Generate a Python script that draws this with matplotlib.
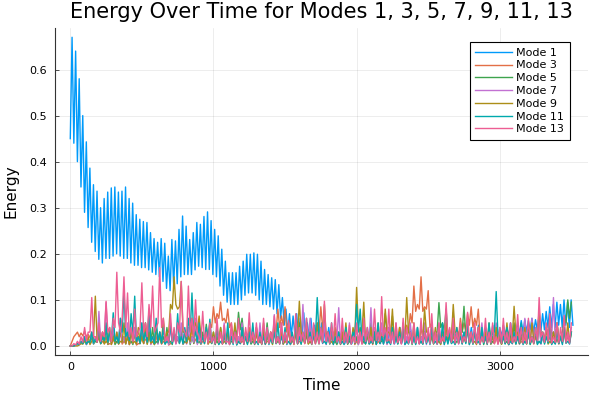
"""
plot.py

Energy over time for the odd modes 1-13. Values were read off a reference
figure: each mode is stored as its successive peaks and the troughs between
them (half-period steps).
"""

import matplotlib
matplotlib.use("Agg")
import matplotlib.pyplot as plt
import numpy as np


# ============================================================
# 1) DATA
# ============================================================

MODE1_STEP = 12.45   # time between a trough and the next peak, mode 1
MODE_STEP = 12.5     # same for modes 3..13

# Mode 1: troughs (j = 0..141) and peaks (j = 1..141)
MODE1_TROUGHS = [
    0.45, 0.44, 0.40, 0.345, 0.29, 0.257, 0.225, 0.205, 0.188, 0.18,
    0.19, 0.19, 0.195, 0.20, 0.195, 0.19, 0.19, 0.18, 0.175, 0.175,
    0.17, 0.17, 0.165, 0.16, 0.155, 0.15, 0.14, 0.125, 0.12, 0.13,
    0.135, 0.15, 0.155, 0.155, 0.155, 0.165, 0.173, 0.17, 0.166, 0.166,
    0.155, 0.15, 0.13, 0.11, 0.095, 0.09, 0.09, 0.09, 0.10, 0.11,
    0.115, 0.115, 0.11, 0.10, 0.09, 0.09, 0.085, 0.08, 0.07, 0.06,
    0.045, 0.03, 0.02, 0.025, 0.02, 0.025, 0.015, 0.02, 0.015, 0.01,
    0.015, 0.01, 0.012, 0.008, 0.01, 0.006, 0.008, 0.005, 0.007, 0.005,
    0.006, 0.008, 0.005, 0.007, 0.005, 0.008, 0.006, 0.005, 0.007, 0.006,
    0.008, 0.005, 0.007, 0.006, 0.005, 0.008, 0.006, 0.007, 0.005, 0.006,
    0.008, 0.006, 0.007, 0.005, 0.008, 0.01, 0.007, 0.009, 0.008, 0.01,
    0.012, 0.01, 0.013, 0.011, 0.014, 0.012, 0.015, 0.013, 0.016, 0.015,
    0.018, 0.02, 0.025, 0.02, 0.025, 0.03, 0.025, 0.03, 0.03, 0.035,
    0.03, 0.035, 0.03, 0.035, 0.04, 0.04, 0.04, 0.045, 0.04, 0.045,
    0.04, 0.045,
]
MODE1_PEAKS = [
    0.67, 0.64, 0.58, 0.50, 0.443, 0.386, 0.35, 0.336, 0.30, 0.32,
    0.334, 0.343, 0.345, 0.334, 0.336, 0.345, 0.32, 0.31, 0.285, 0.275,
    0.27, 0.268, 0.246, 0.233, 0.225, 0.233, 0.223, 0.195, 0.231, 0.228,
    0.253, 0.282, 0.26, 0.231, 0.246, 0.268, 0.264, 0.281, 0.291, 0.272,
    0.253, 0.239, 0.21, 0.184, 0.159, 0.159, 0.159, 0.173, 0.184, 0.199,
    0.199, 0.202, 0.199, 0.184, 0.166, 0.155, 0.148, 0.144, 0.133, 0.105,
    0.08, 0.07, 0.065, 0.07, 0.06, 0.072, 0.05, 0.06, 0.045, 0.04,
    0.05, 0.035, 0.04, 0.03, 0.035, 0.025, 0.03, 0.02, 0.025, 0.03,
    0.02, 0.035, 0.025, 0.03, 0.02, 0.04, 0.025, 0.03, 0.02, 0.035,
    0.03, 0.025, 0.04, 0.03, 0.02, 0.035, 0.025, 0.03, 0.02, 0.03,
    0.025, 0.035, 0.03, 0.02, 0.03, 0.04, 0.025, 0.035, 0.03, 0.04,
    0.03, 0.035, 0.04, 0.03, 0.045, 0.035, 0.04, 0.03, 0.045, 0.04,
    0.04, 0.045, 0.04, 0.05, 0.045, 0.05, 0.055, 0.057, 0.055, 0.06,
    0.057, 0.065, 0.07, 0.075, 0.085, 0.09, 0.095, 0.09, 0.10, 0.095,
    0.10,
]

# Modes 3..13: peaks every 25 time units, troughs in between
MODE3_PEAKS = [
    0.0, 0.02, 0.03, 0.028, 0.032, 0.025, 0.03, 0.015, 0.02, 0.01,
    0.02, 0.005, 0.015, 0.01, 0.03, 0.01, 0.02, 0.01, 0.025, 0.005,
    0.02, 0.015, 0.04, 0.01, 0.02, 0.03, 0.01, 0.02, 0.005, 0.025,
    0.015, 0.03, 0.01, 0.02, 0.04, 0.015, 0.03, 0.01, 0.035, 0.05,
    0.085, 0.07, 0.095, 0.06, 0.08, 0.05, 0.03, 0.02, 0.01, 0.03,
    0.015, 0.02, 0.04, 0.02, 0.03, 0.01, 0.03, 0.05, 0.08, 0.065,
    0.085, 0.05, 0.02, 0.03, 0.01, 0.025, 0.02, 0.04, 0.03, 0.05,
    0.085, 0.06, 0.03, 0.02, 0.015, 0.03, 0.01, 0.02, 0.015, 0.03,
    0.01, 0.025, 0.01, 0.03, 0.015, 0.02, 0.01, 0.03, 0.02, 0.015,
    0.03, 0.02, 0.04, 0.03, 0.045, 0.07, 0.13, 0.09, 0.15, 0.085,
    0.12, 0.05, 0.02, 0.03, 0.015, 0.02, 0.035, 0.02, 0.04, 0.06,
    0.05, 0.07, 0.085, 0.06, 0.08, 0.03, 0.015, 0.02, 0.01, 0.02,
    0.015, 0.03, 0.01, 0.02, 0.015, 0.025, 0.01, 0.02, 0.03, 0.015,
    0.02, 0.01, 0.025, 0.04, 0.02, 0.03, 0.015, 0.02, 0.03, 0.02,
    0.03,
]
MODE3_TROUGHS = [
    0.01, 0.025, 0.02, 0.022, 0.02, 0.018, 0.01, 0.008, 0.005, 0.006,
    0.003, 0.004, 0.005, 0.008, 0.004, 0.006, 0.003, 0.007, 0.002, 0.005,
    0.006, 0.01, 0.004, 0.005, 0.008, 0.004, 0.006, 0.002, 0.007, 0.005,
    0.008, 0.004, 0.006, 0.01, 0.005, 0.008, 0.004, 0.012, 0.02, 0.04,
    0.05, 0.06, 0.055, 0.05, 0.04, 0.02, 0.01, 0.005, 0.008, 0.006,
    0.005, 0.01, 0.008, 0.006, 0.004, 0.008, 0.015, 0.03, 0.04, 0.045,
    0.03, 0.01, 0.006, 0.004, 0.008, 0.005, 0.01, 0.012, 0.02, 0.03,
    0.04, 0.02, 0.008, 0.005, 0.006, 0.004, 0.005, 0.004, 0.006, 0.003,
    0.005, 0.004, 0.006, 0.005, 0.003, 0.004, 0.006, 0.005, 0.004, 0.006,
    0.008, 0.01, 0.012, 0.015, 0.03, 0.05, 0.075, 0.08, 0.075, 0.08,
    0.04, 0.015, 0.008, 0.005, 0.006, 0.01, 0.008, 0.01, 0.02, 0.03,
    0.035, 0.045, 0.04, 0.045, 0.02, 0.008, 0.005, 0.004, 0.006, 0.005,
    0.004, 0.006, 0.003, 0.005, 0.004, 0.006, 0.005, 0.008, 0.005, 0.004,
    0.006, 0.005, 0.01, 0.008, 0.006, 0.005, 0.004, 0.008, 0.006, 0.01,
]

MODE5_PEAKS = [
    0.0, 0.0, 0.005, 0.01, 0.015, 0.01, 0.02, 0.01, 0.03, 0.02,
    0.04, 0.02, 0.03, 0.01, 0.05, 0.02, 0.03, 0.01, 0.04, 0.02,
    0.03, 0.05, 0.02, 0.04, 0.01, 0.03, 0.02, 0.04, 0.01, 0.03,
    0.02, 0.04, 0.01, 0.03, 0.02, 0.04, 0.01, 0.03, 0.047, 0.02,
    0.03, 0.01, 0.04, 0.02, 0.03, 0.01, 0.04, 0.073, 0.06, 0.02,
    0.03, 0.01, 0.04, 0.02, 0.03, 0.05, 0.02, 0.04, 0.01, 0.03,
    0.02, 0.04, 0.01, 0.03, 0.05, 0.02, 0.03, 0.01, 0.04, 0.02,
    0.03, 0.05, 0.02, 0.04, 0.01, 0.03, 0.02, 0.04, 0.01, 0.03,
    0.02, 0.04, 0.01, 0.03, 0.05, 0.02, 0.03, 0.01, 0.07, 0.04,
    0.065, 0.03, 0.02, 0.04, 0.01, 0.03, 0.02, 0.04, 0.01, 0.03,
    0.02, 0.04, 0.03, 0.094, 0.05, 0.08, 0.02, 0.04, 0.01, 0.03,
    0.086, 0.03, 0.02, 0.04, 0.01, 0.03, 0.02, 0.04, 0.01, 0.03,
    0.02, 0.04, 0.01, 0.03, 0.05, 0.02, 0.03, 0.01, 0.04, 0.02,
    0.03, 0.05, 0.02, 0.04, 0.057, 0.03, 0.05, 0.02, 0.06, 0.10,
    0.095,
]
MODE5_TROUGHS = [
    0.0, 0.002, 0.004, 0.005, 0.003, 0.006, 0.004, 0.008, 0.005, 0.006,
    0.004, 0.007, 0.003, 0.005, 0.008, 0.004, 0.006, 0.003, 0.009, 0.005,
    0.006, 0.004, 0.008, 0.003, 0.005, 0.007, 0.004, 0.006, 0.003, 0.008,
    0.005, 0.004, 0.007, 0.003, 0.006, 0.005, 0.004, 0.01, 0.008, 0.005,
    0.006, 0.004, 0.007, 0.005, 0.003, 0.008, 0.02, 0.035, 0.02, 0.006,
    0.004, 0.007, 0.005, 0.003, 0.008, 0.006, 0.004, 0.005, 0.007, 0.004,
    0.006, 0.003, 0.008, 0.005, 0.004, 0.007, 0.005, 0.003, 0.006, 0.004,
    0.008, 0.005, 0.004, 0.006, 0.003, 0.007, 0.005, 0.004, 0.006, 0.005,
    0.003, 0.007, 0.004, 0.006, 0.005, 0.004, 0.008, 0.02, 0.03, 0.025,
    0.01, 0.005, 0.006, 0.004, 0.007, 0.003, 0.006, 0.005, 0.004, 0.008,
    0.006, 0.01, 0.03, 0.04, 0.035, 0.02, 0.006, 0.004, 0.008, 0.03,
    0.02, 0.006, 0.004, 0.007, 0.005, 0.003, 0.006, 0.004, 0.008, 0.005,
    0.004, 0.006, 0.003, 0.007, 0.005, 0.004, 0.006, 0.005, 0.003, 0.007,
    0.005, 0.008, 0.01, 0.02, 0.025, 0.02, 0.015, 0.03, 0.05, 0.06,
]

MODE7_PEAKS = [
    0.0, 0.0, 0.005, 0.01, 0.02, 0.01, 0.03, 0.02, 0.075, 0.03,
    0.094, 0.02, 0.04, 0.03, 0.06, 0.02, 0.05, 0.03, 0.04, 0.02,
    0.05, 0.03, 0.06, 0.02, 0.04, 0.03, 0.05, 0.02, 0.04, 0.03,
    0.02, 0.05, 0.03, 0.04, 0.02, 0.06, 0.03, 0.02, 0.04, 0.03,
    0.02, 0.04, 0.03, 0.05, 0.02, 0.03, 0.04, 0.02, 0.05, 0.03,
    0.02, 0.04, 0.03, 0.05, 0.02, 0.04, 0.03, 0.068, 0.02, 0.05,
    0.03, 0.04, 0.02, 0.05, 0.03, 0.09, 0.04, 0.06, 0.02, 0.04,
    0.03, 0.05, 0.02, 0.04, 0.03, 0.083, 0.04, 0.02, 0.05, 0.03,
    0.04, 0.02, 0.05, 0.03, 0.083, 0.04, 0.02, 0.05, 0.03, 0.04,
    0.02, 0.05, 0.03, 0.04, 0.02, 0.05, 0.03, 0.04, 0.02, 0.05,
    0.03, 0.04, 0.02, 0.05, 0.03, 0.04, 0.02, 0.073, 0.03, 0.04,
    0.02, 0.05, 0.03, 0.04, 0.02, 0.05, 0.03, 0.04, 0.02, 0.05,
    0.03, 0.04, 0.02, 0.05, 0.03, 0.04, 0.02, 0.06, 0.03, 0.06,
    0.03, 0.05, 0.02, 0.04, 0.03, 0.105, 0.05, 0.02, 0.04, 0.03,
    0.04,
]
MODE7_TROUGHS = [
    0.0, 0.002, 0.004, 0.006, 0.003, 0.008, 0.005, 0.01, 0.008, 0.012,
    0.006, 0.005, 0.008, 0.004, 0.007, 0.005, 0.003, 0.006, 0.004, 0.008,
    0.005, 0.006, 0.003, 0.007, 0.004, 0.005, 0.008, 0.003, 0.006, 0.004,
    0.007, 0.005, 0.004, 0.006, 0.008, 0.003, 0.005, 0.007, 0.004, 0.006,
    0.003, 0.008, 0.005, 0.004, 0.006, 0.007, 0.003, 0.005, 0.004, 0.006,
    0.008, 0.004, 0.005, 0.007, 0.003, 0.006, 0.01, 0.008, 0.005, 0.004,
    0.006, 0.003, 0.007, 0.005, 0.012, 0.01, 0.008, 0.005, 0.004, 0.006,
    0.005, 0.003, 0.007, 0.004, 0.01, 0.008, 0.005, 0.006, 0.004, 0.007,
    0.003, 0.005, 0.006, 0.01, 0.008, 0.004, 0.007, 0.005, 0.003, 0.006,
    0.004, 0.008, 0.005, 0.003, 0.006, 0.007, 0.004, 0.005, 0.008, 0.003,
    0.006, 0.005, 0.004, 0.007, 0.003, 0.006, 0.01, 0.008, 0.004, 0.005,
    0.007, 0.003, 0.006, 0.005, 0.004, 0.008, 0.003, 0.006, 0.005, 0.004,
    0.006, 0.008, 0.003, 0.005, 0.007, 0.004, 0.006, 0.01, 0.008, 0.012,
    0.006, 0.004, 0.008, 0.01, 0.015, 0.01, 0.006, 0.005, 0.008, 0.006,
]

MODE9_PEAKS = [
    0.0, 0.0, 0.0, 0.005, 0.01, 0.02, 0.01, 0.108, 0.02, 0.03,
    0.01, 0.04, 0.02, 0.03, 0.01, 0.05, 0.02, 0.03, 0.01, 0.04,
    0.02, 0.05, 0.03, 0.01, 0.04, 0.02, 0.06, 0.03, 0.09, 0.15,
    0.08, 0.14, 0.03, 0.02, 0.06, 0.05, 0.065, 0.02, 0.04, 0.01,
    0.03, 0.02, 0.04, 0.01, 0.03, 0.02, 0.05, 0.01, 0.03, 0.02,
    0.04, 0.02, 0.03, 0.01, 0.05, 0.02, 0.03, 0.04, 0.02, 0.03,
    0.01, 0.04, 0.02, 0.03, 0.097, 0.02, 0.04, 0.01, 0.03, 0.05,
    0.02, 0.09, 0.03, 0.01, 0.04, 0.02, 0.03, 0.05, 0.02, 0.04,
    0.127, 0.03, 0.095, 0.02, 0.04, 0.03, 0.05, 0.02, 0.08, 0.03,
    0.08, 0.02, 0.04, 0.03, 0.105, 0.02, 0.05, 0.03, 0.04, 0.08,
    0.03, 0.02, 0.04, 0.01, 0.03, 0.05, 0.02, 0.09, 0.03, 0.04,
    0.02, 0.05, 0.03, 0.01, 0.04, 0.02, 0.03, 0.05, 0.02, 0.04,
    0.03, 0.02, 0.05, 0.01, 0.086, 0.03, 0.02, 0.04, 0.03, 0.05,
    0.02, 0.08, 0.03, 0.04, 0.01, 0.03, 0.05, 0.02, 0.04, 0.05,
    0.03,
]
MODE9_TROUGHS = [
    0.0, 0.0, 0.002, 0.004, 0.006, 0.003, 0.02, 0.01, 0.005, 0.004,
    0.006, 0.003, 0.007, 0.004, 0.008, 0.005, 0.003, 0.006, 0.004, 0.007,
    0.005, 0.004, 0.006, 0.003, 0.008, 0.005, 0.01, 0.03, 0.08, 0.09,
    0.085, 0.03, 0.006, 0.01, 0.04, 0.035, 0.02, 0.005, 0.004, 0.006,
    0.003, 0.007, 0.004, 0.006, 0.005, 0.008, 0.003, 0.006, 0.004, 0.005,
    0.007, 0.003, 0.006, 0.005, 0.004, 0.008, 0.003, 0.006, 0.005, 0.004,
    0.007, 0.005, 0.003, 0.02, 0.03, 0.006, 0.004, 0.007, 0.005, 0.01,
    0.03, 0.02, 0.005, 0.004, 0.006, 0.003, 0.007, 0.005, 0.006, 0.02,
    0.04, 0.03, 0.01, 0.005, 0.007, 0.004, 0.006, 0.02, 0.03, 0.02,
    0.01, 0.005, 0.008, 0.02, 0.03, 0.006, 0.005, 0.007, 0.02, 0.03,
    0.006, 0.004, 0.007, 0.003, 0.006, 0.008, 0.02, 0.03, 0.006, 0.005,
    0.007, 0.004, 0.006, 0.003, 0.005, 0.008, 0.004, 0.006, 0.005, 0.007,
    0.004, 0.006, 0.01, 0.02, 0.025, 0.005, 0.006, 0.004, 0.007, 0.01,
    0.02, 0.025, 0.006, 0.004, 0.005, 0.007, 0.006, 0.008, 0.01, 0.008,
]

MODE11_PEAKS = [
    0.0, 0.0, 0.005, 0.01, 0.02, 0.01, 0.03, 0.015, 0.04, 0.02,
    0.05, 0.03, 0.072, 0.02, 0.06, 0.12, 0.03, 0.07, 0.108, 0.02,
    0.05, 0.03, 0.08, 0.02, 0.06, 0.03, 0.04, 0.01, 0.05, 0.03,
    0.07, 0.02, 0.04, 0.06, 0.115, 0.03, 0.05, 0.02, 0.04, 0.058,
    0.02, 0.04, 0.01, 0.03, 0.05, 0.02, 0.03, 0.01, 0.04, 0.02,
    0.03, 0.05, 0.01, 0.03, 0.02, 0.04, 0.015, 0.03, 0.05, 0.02,
    0.04, 0.01, 0.03, 0.05, 0.02, 0.03, 0.06, 0.03, 0.02, 0.105,
    0.04, 0.01, 0.03, 0.05, 0.02, 0.03, 0.01, 0.04, 0.02, 0.03,
    0.09, 0.08, 0.02, 0.04, 0.01, 0.03, 0.05, 0.02, 0.03, 0.01,
    0.04, 0.02, 0.03, 0.05, 0.01, 0.03, 0.02, 0.04, 0.01, 0.03,
    0.02, 0.04, 0.01, 0.03, 0.05, 0.02, 0.03, 0.01, 0.04, 0.02,
    0.03, 0.05, 0.02, 0.03, 0.01, 0.04, 0.02, 0.05, 0.03, 0.118,
    0.03, 0.02, 0.04, 0.01, 0.03, 0.02, 0.05, 0.01, 0.03, 0.02,
    0.04, 0.01, 0.03, 0.02, 0.05, 0.01, 0.03, 0.02, 0.04, 0.01,
    0.03,
]
MODE11_TROUGHS = [
    0.0, 0.002, 0.003, 0.005, 0.004, 0.008, 0.006, 0.01, 0.005, 0.012,
    0.008, 0.015, 0.01, 0.006, 0.03, 0.02, 0.012, 0.025, 0.01, 0.006,
    0.012, 0.008, 0.01, 0.005, 0.008, 0.006, 0.004, 0.007, 0.005, 0.01,
    0.006, 0.005, 0.01, 0.03, 0.02, 0.008, 0.006, 0.005, 0.01, 0.006,
    0.004, 0.003, 0.005, 0.006, 0.004, 0.003, 0.002, 0.005, 0.004, 0.003,
    0.006, 0.004, 0.003, 0.005, 0.004, 0.003, 0.006, 0.005, 0.004, 0.006,
    0.003, 0.004, 0.006, 0.005, 0.004, 0.008, 0.01, 0.006, 0.02, 0.02,
    0.006, 0.004, 0.005, 0.003, 0.006, 0.004, 0.003, 0.005, 0.004, 0.02,
    0.03, 0.01, 0.005, 0.004, 0.006, 0.003, 0.005, 0.004, 0.006, 0.003,
    0.005, 0.004, 0.006, 0.003, 0.004, 0.005, 0.003, 0.006, 0.004, 0.005,
    0.003, 0.005, 0.004, 0.006, 0.003, 0.004, 0.005, 0.003, 0.006, 0.004,
    0.005, 0.003, 0.004, 0.006, 0.003, 0.005, 0.004, 0.006, 0.03, 0.02,
    0.006, 0.004, 0.003, 0.005, 0.004, 0.006, 0.003, 0.005, 0.004, 0.006,
    0.003, 0.005, 0.004, 0.006, 0.003, 0.004, 0.005, 0.003, 0.006, 0.004,
]

MODE13_PEAKS = [
    0.0, 0.005, 0.01, 0.02, 0.04, 0.03, 0.105, 0.02, 0.05, 0.03,
    0.097, 0.04, 0.06, 0.16, 0.03, 0.15, 0.115, 0.04, 0.08, 0.03,
    0.137, 0.05, 0.09, 0.13, 0.04, 0.17, 0.06, 0.02, 0.07, 0.04,
    0.05, 0.14, 0.03, 0.13, 0.06, 0.10, 0.02, 0.075, 0.03, 0.05,
    0.02, 0.06, 0.03, 0.045, 0.01, 0.05, 0.03, 0.06, 0.02, 0.04,
    0.072, 0.03, 0.05, 0.02, 0.06, 0.04, 0.03, 0.065, 0.02, 0.05,
    0.03, 0.055, 0.02, 0.07, 0.04, 0.03, 0.06, 0.02, 0.05, 0.03,
    0.04, 0.097, 0.03, 0.05, 0.07, 0.02, 0.06, 0.03, 0.045, 0.02,
    0.05, 0.03, 0.06, 0.04, 0.02, 0.08, 0.03, 0.107, 0.04, 0.08,
    0.03, 0.05, 0.02, 0.06, 0.04, 0.03, 0.05, 0.02, 0.06, 0.03,
    0.04, 0.07, 0.03, 0.05, 0.02, 0.094, 0.04, 0.06, 0.03, 0.05,
    0.02, 0.073, 0.03, 0.05, 0.04, 0.02, 0.06, 0.03, 0.05, 0.02,
    0.04, 0.06, 0.03, 0.05, 0.02, 0.068, 0.04, 0.03, 0.06, 0.02,
    0.04, 0.105, 0.03, 0.05, 0.07, 0.02, 0.05, 0.04, 0.066, 0.03,
    0.05,
]
MODE13_TROUGHS = [
    0.0, 0.002, 0.004, 0.008, 0.01, 0.03, 0.02, 0.008, 0.01, 0.02,
    0.03, 0.01, 0.04, 0.05, 0.06, 0.04, 0.02, 0.01, 0.02, 0.04,
    0.03, 0.02, 0.04, 0.03, 0.05, 0.04, 0.01, 0.008, 0.01, 0.006,
    0.03, 0.04, 0.02, 0.03, 0.02, 0.03, 0.008, 0.01, 0.006, 0.008,
    0.005, 0.007, 0.004, 0.008, 0.003, 0.006, 0.005, 0.008, 0.004, 0.01,
    0.008, 0.005, 0.006, 0.004, 0.007, 0.005, 0.008, 0.006, 0.004, 0.007,
    0.005, 0.008, 0.004, 0.006, 0.01, 0.005, 0.007, 0.004, 0.006, 0.005,
    0.008, 0.01, 0.006, 0.012, 0.008, 0.005, 0.007, 0.006, 0.004, 0.008,
    0.006, 0.005, 0.01, 0.007, 0.008, 0.012, 0.01, 0.02, 0.01, 0.006,
    0.005, 0.007, 0.004, 0.008, 0.006, 0.005, 0.007, 0.004, 0.006, 0.008,
    0.005, 0.006, 0.004, 0.007, 0.01, 0.02, 0.008, 0.006, 0.005, 0.007,
    0.01, 0.008, 0.006, 0.005, 0.004, 0.008, 0.006, 0.007, 0.005, 0.004,
    0.006, 0.008, 0.005, 0.007, 0.01, 0.008, 0.006, 0.005, 0.008, 0.006,
    0.012, 0.02, 0.008, 0.01, 0.006, 0.008, 0.007, 0.01, 0.008, 0.006,
]

LABELS = ["Mode 1", "Mode 3", "Mode 5", "Mode 7", "Mode 9", "Mode 11", "Mode 13"]
X_TICKS = [0, 1000, 2000, 3000]
Y_TICKS = [0.0, 0.1, 0.2, 0.3, 0.4, 0.5, 0.6]


# ============================================================
# 2) STYLING
# ============================================================

COLORS = ["#009AFA", "#E36F47", "#3EA44E", "#C271D2", "#AC8E18", "#00A9AD", "#ED5E93"]
LINE_WIDTH = 1.0
WIDEN = 0.03          # axis padding on each side, like Plots.jl

TITLE = "Energy Over Time for Modes 1, 3, 5, 7, 9, 11, 13"
TITLE_FONTSIZE = 15
GUIDE_FONTSIZE = 11
TICK_FONTSIZE = 8
LEGEND_FONTSIZE = 8


# ============================================================
# 3) HELPERS
# ============================================================

def interleave(first, second, step):
    """Alternate values first[0], second[0], first[1], ... on a regular grid."""
    vals = []
    for j, a in enumerate(first):
        vals.append(a)
        if j < len(second):
            vals.append(second[j])
    vals = np.array(vals)
    return np.arange(len(vals)) * step, vals


def widened(lo, hi):
    pad = (hi - lo) * WIDEN
    return lo - pad, hi + pad


# ============================================================
# 4) FIGURE
# ============================================================

def main():
    plt.rcParams["font.family"] = ["DejaVu Sans"]

    series = [
        interleave(MODE1_TROUGHS, MODE1_PEAKS, MODE1_STEP),
        interleave(MODE3_PEAKS, MODE3_TROUGHS, MODE_STEP),
        interleave(MODE5_PEAKS, MODE5_TROUGHS, MODE_STEP),
        interleave(MODE7_PEAKS, MODE7_TROUGHS, MODE_STEP),
        interleave(MODE9_PEAKS, MODE9_TROUGHS, MODE_STEP),
        interleave(MODE11_PEAKS, MODE11_TROUGHS, MODE_STEP),
        interleave(MODE13_PEAKS, MODE13_TROUGHS, MODE_STEP),
    ]

    fig = plt.figure(figsize=(6, 4), dpi=100)
    ax = fig.add_axes([0.092, 0.112, 0.888, 0.818])

    for (t, e), lab, col in zip(series, LABELS, COLORS):
        ax.plot(t, e, color=col, lw=LINE_WIDTH, label=lab)

    t_all = np.concatenate([s[0] for s in series])
    e_all = np.concatenate([s[1] for s in series])
    ax.set_xlim(*widened(t_all.min(), t_all.max()))
    ax.set_ylim(*widened(e_all.min(), e_all.max()))

    ax.set_xticks(X_TICKS)
    ax.set_yticks(Y_TICKS)
    ax.set_yticklabels([f"{v:.1f}" for v in Y_TICKS])
    ax.tick_params(direction="in", length=3, width=0.6, labelsize=TICK_FONTSIZE,
                   color="#333333")
    ax.tick_params(axis="x", pad=5)
    ax.tick_params(axis="y", pad=6)
    ax.grid(True, color="black", alpha=0.1, lw=0.5)
    ax.set_axisbelow(True)

    for side in ("top", "right"):
        ax.spines[side].set_visible(False)
    for side in ("left", "bottom"):
        ax.spines[side].set_color("#333333")
        ax.spines[side].set_linewidth(0.8)

    ax.set_title(TITLE, fontsize=TITLE_FONTSIZE, pad=7)
    ax.set_xlabel("Time", fontsize=GUIDE_FONTSIZE, labelpad=4)
    ax.set_ylabel("Energy", fontsize=GUIDE_FONTSIZE, labelpad=8)

    leg = ax.legend(loc="upper right", bbox_to_anchor=(0.966, 0.957), borderaxespad=0,
                    fontsize=LEGEND_FONTSIZE, frameon=True, fancybox=False,
                    handlelength=3.3, labelspacing=0.25, borderpad=0.5, handletextpad=0.4)
    leg.get_frame().set_edgecolor("black")
    leg.get_frame().set_linewidth(0.8)
    leg.get_frame().set_alpha(1.0)

    fig.savefig("out.png", dpi=100)
    plt.close(fig)


if __name__ == "__main__":
    main()
